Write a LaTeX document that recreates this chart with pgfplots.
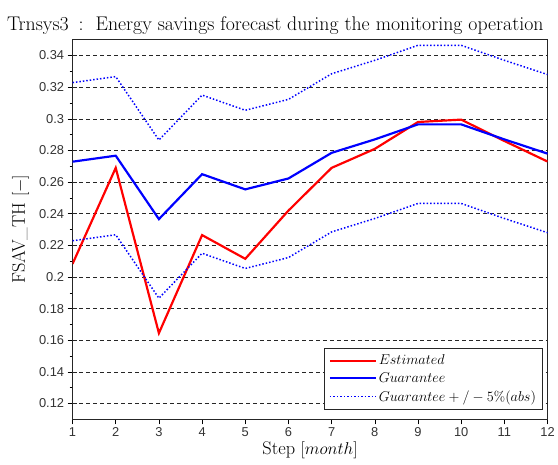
\documentclass[border=0pt]{standalone}
\usepackage{fontspec}
\newfontfamily\ticksf{Liberation Sans}
\usepackage{pgfplots}
\pgfplotsset{compat=1.18}
\usetikzlibrary{calc}

\begin{document}
\begin{tikzpicture}
\begin{axis}[
    name=ax,
    scale only axis,
    width=478bp, height=382bp,
    xmin=1, xmax=12,
    ymin=0.11, ymax=0.35,
    xtick={1,...,12},
    ytick={0.12,0.14,...,0.341},
    minor y tick num=1,
    yticklabel style={/pgf/number format/fixed, /pgf/number format/precision=2},
    tick align=outside,
    xtick pos=bottom, ytick pos=left,
    major tick length=5bp, minor tick length=3bp,
    tick style={black, line width=0.6pt},
    /pgf/number format/assume math mode=true,
    ticklabel style={font=\ticksf\fontsize{13}{15}\selectfont, text=black!80},
    ymajorgrids,
    major grid style={black!85, dashed, dash pattern=on 4bp off 3bp, line width=0.6pt},
    axis line style={black!85, line width=0.8pt},
    xlabel={Step $[month]$},
    ylabel={FSAV\_TH $[-]$},
    label style={font=\fontsize{18.5}{22}\selectfont},
    xlabel style={yshift=2bp},
    ylabel style={yshift=3bp},
    title={Trnsys3\hspace{4bp} : \hspace{4bp}Energy savings forecast during the monitoring operation},
    title style={font=\fontsize{20}{24}\selectfont, xshift=-35bp, yshift=-4bp},
    legend style={at={(0.99,0.026)}, anchor=south east, draw=black!85,
        line width=0.8pt, font=\fontsize{14}{16}\selectfont,
        row sep=2.5bp, inner sep=4.5bp},
    legend cell align=left,
    legend image code/.code={\draw[#1] (0bp,0bp) -- (46bp,0bp);},
]
\addplot[red, line width=2.2pt] coordinates {
    (1,0.2083) (2,0.2690) (3,0.1645) (4,0.2265) (5,0.2115) (6,0.2420)
    (7,0.2690) (8,0.2810) (9,0.2980) (10,0.2995) (11,0.2860) (12,0.2730)
};
\addlegendentry{$Estimated$}
\addplot[blue, line width=2.2pt] coordinates {
    (1,0.2729) (2,0.2767) (3,0.2366) (4,0.2650) (5,0.2554) (6,0.2623)
    (7,0.2785) (8,0.2870) (9,0.2965) (10,0.2965) (11,0.2870) (12,0.2780)
};
\addlegendentry{$Guarantee$}
\addplot[blue, line width=1.5pt, dotted, forget plot] coordinates {
    (1,0.3229) (2,0.3267) (3,0.2866) (4,0.3150) (5,0.3054) (6,0.3123)
    (7,0.3285) (8,0.3370) (9,0.3465) (10,0.3465) (11,0.3370) (12,0.3280)
};
\addplot[blue, line width=1.5pt, dotted] coordinates {
    (1,0.2229) (2,0.2267) (3,0.1866) (4,0.2150) (5,0.2054) (6,0.2123)
    (7,0.2285) (8,0.2370) (9,0.2465) (10,0.2465) (11,0.2370) (12,0.2280)
};
\addlegendentry{$Guarantee+/-5\%(abs)$}
\end{axis}
\path ($(ax.south west)+(-73bp,-45bp)$) rectangle ($(ax.north east)+(7bp,40bp)$);
\end{tikzpicture}
\end{document}
